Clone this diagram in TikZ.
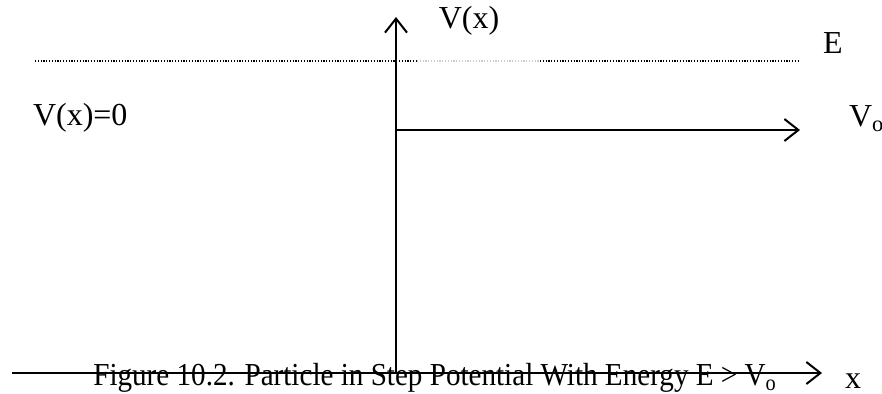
\documentclass[tikz,border=0pt]{standalone}
\usepackage{fontspec}
\setmainfont{Liberation Serif}
\usetikzlibrary{arrows.meta, positioning, calc}

\begin{document}
\begin{tikzpicture}[x=0.5pt, y=-0.5pt, line width=1pt,
    axisArrow/.style={-{Straight Barb[length=7pt, width=11pt, line width=1pt]}},
    energyLine/.style={line width=0.7pt, dash pattern=on 0.6pt off 0.8pt},
    bigText/.style={font=\fontsize{16}{19}\selectfont, inner sep=0pt}]%
    \useasboundingbox (0,0) rectangle (882,393);
    \def\axisY{373}
    \def\stepY{130}
    \def\energyY{61}
    % axes
    \coordinate (origin) at (396,\axisY);
    \coordinate (vTop) at (396,17);
    \coordinate (xStart) at (12,\axisY);
    \coordinate (xEnd) at (822,\axisY);
    \draw [axisArrow] (origin) -- (vTop);
    \draw [axisArrow] (xStart) -- (xEnd);
    % step potential
    \coordinate (stepStart) at (396,\stepY);
    \coordinate (stepEnd) at (800,\stepY);
    \draw [axisArrow] (stepStart) -- (stepEnd);
    % energy level
    \coordinate (eStart) at (35,\energyY);
    \coordinate (eGapL) at (417,\energyY);
    \coordinate (eGapR) at (540,\energyY);
    \coordinate (eEnd) at (800,\energyY);
    \draw [energyLine] (eStart) -- (eGapL);
    \draw [energyLine, black!20] (eGapL) -- (eGapR);
    \draw [energyLine] (eGapR) -- (eEnd);
    % labels
    \node (vLabel) [bigText] at (469,21) {V(x)};
    \node (eLabel) [bigText] at (833,43) {E};
    \node (zeroLabel) [bigText, anchor=base west] at (32,125) {V(x)=0};
    \node (voLabel) [bigText, anchor=base west] at (848,126) {V\textsubscript{o}};
    \node (xLabel) [bigText, anchor=base] at (853,388) {x};
    \node (caption) [font=\fontsize{16}{19}\selectfont, inner sep=0pt, anchor=base, xscale=0.91] at (435,385)
        {Figure 10.2. Particle in Step Potential With Energy E > V\textsubscript{o}};
\end{tikzpicture}
\end{document}
